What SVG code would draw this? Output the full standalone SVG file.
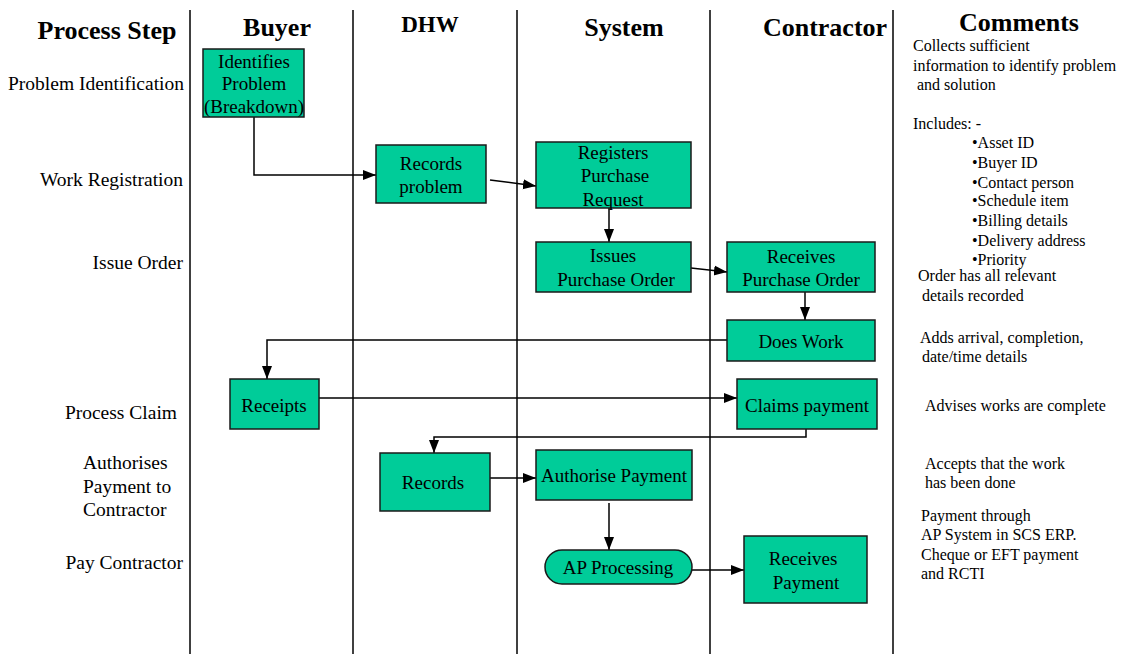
<svg xmlns="http://www.w3.org/2000/svg" width="1124" height="654" viewBox="0 0 1124 654">
<style>
text{font-family:"Liberation Serif","Times New Roman",serif;fill:#000}
.h{font-weight:bold;font-size:26px;text-anchor:middle}
.row{font-size:19.5px;text-anchor:end}
.rowl{font-size:19.5px}
.bt{font-size:19px;text-anchor:middle}
.c{font-size:16px}
.box{fill:#00CC99;stroke:#1a1a1a;stroke-width:1.5}
.lane{stroke:#000;stroke-width:1.5}
.con{fill:none;stroke:#000;stroke-width:1.5}
</style>
<defs>
<marker id="ar" markerUnits="userSpaceOnUse" markerWidth="14" markerHeight="14" viewBox="0 0 14 14" refX="13" refY="7" orient="auto">
<path d="M0,2 L13,7 L0,12 Z" fill="#000"/>
</marker>
</defs>
<rect width="1124" height="654" fill="#fff"/>
<g id="lanes">
<line class="lane" x1="190" y1="10" x2="190" y2="654"/>
<line class="lane" x1="353" y1="10" x2="353" y2="654"/>
<line class="lane" x1="517" y1="10" x2="517" y2="654"/>
<line class="lane" x1="710" y1="10" x2="710" y2="654"/>
<line class="lane" x1="893" y1="10" x2="893" y2="654"/>
</g>
<g id="headers">
<text class="h" x="107" y="39">Process Step</text>
<text class="h" x="277" y="36">Buyer</text>
<text class="h" x="430" y="32" style="font-size:23px">DHW</text>
<text class="h" x="624" y="36">System</text>
<text class="h" x="825" y="36">Contractor</text>
<text class="h" x="1019" y="31">Comments</text>
</g>
<g id="rows">
<text class="row" x="184" y="90">Problem Identification</text>
<text class="row" x="183" y="186">Work Registration</text>
<text class="row" x="183" y="269">Issue Order</text>
<text class="row" x="177" y="419">Process Claim</text>
<text class="rowl" x="83" y="469">Authorises</text>
<text class="rowl" x="83" y="493">Payment to</text>
<text class="rowl" x="83" y="516">Contractor</text>
<text class="row" x="183" y="569">Pay Contractor</text>
</g>
<g id="connectors">
<path class="con" d="M254,117 V175 H376" marker-end="url(#ar)"/>
<path class="con" d="M490,180 L536,186" marker-end="url(#ar)"/>
<path class="con" d="M609,208 V242" marker-end="url(#ar)"/>
<path class="con" d="M691,268 L727,272" marker-end="url(#ar)"/>
<path class="con" d="M805,292 V320" marker-end="url(#ar)"/>
<path class="con" d="M727,340 H267 V379" marker-end="url(#ar)"/>
<path class="con" d="M319,398 H737" marker-end="url(#ar)"/>
<path class="con" d="M806,429 V437 H434 V453" marker-end="url(#ar)"/>
<path class="con" d="M490,478 H536" marker-end="url(#ar)"/>
<path class="con" d="M609,503 V550" marker-end="url(#ar)"/>
<path class="con" d="M692,570 H744" marker-end="url(#ar)"/>
</g>
<g id="n1"><rect class="box" x="203" y="49" width="101" height="68"/>
<text class="bt" x="254" y="68">Identifies</text><text class="bt" x="254" y="90">Problem</text><text class="bt" x="254" y="113">(Breakdown)</text></g>
<g id="n2"><rect class="box" x="376" y="145" width="110" height="58"/>
<text class="bt" x="431" y="170">Records</text><text class="bt" x="431" y="193">problem</text></g>
<g id="n3"><rect class="box" x="536" y="142" width="155" height="66"/>
<text class="bt" x="613" y="159">Registers</text><text class="bt" x="615" y="182">Purchase</text><text class="bt" x="613" y="206">Request</text></g>
<g id="n4"><rect class="box" x="536" y="242" width="155" height="50"/>
<text class="bt" x="613" y="262">Issues</text><text class="bt" x="616" y="286">Purchase Order</text></g>
<g id="n5"><rect class="box" x="727" y="242" width="148" height="50"/>
<text class="bt" x="801" y="263">Receives</text><text class="bt" x="801" y="286">Purchase Order</text></g>
<g id="n6"><rect class="box" x="727" y="320" width="148" height="41"/>
<text class="bt" x="801" y="348">Does Work</text></g>
<g id="n7"><rect class="box" x="230" y="379" width="89" height="50"/>
<text class="bt" x="274" y="412">Receipts</text></g>
<g id="n8"><rect class="box" x="737" y="379" width="140" height="50"/>
<text class="bt" x="807" y="412">Claims payment</text></g>
<g id="n9"><rect class="box" x="380" y="453" width="110" height="58"/>
<text class="bt" x="433" y="489">Records</text></g>
<g id="n10"><rect class="box" x="536" y="450" width="156" height="50"/>
<text class="bt" x="614" y="482">Authorise Payment</text></g>
<g id="n11"><rect class="box" x="545" y="550" width="147" height="34" rx="17" ry="17"/>
<text class="bt" x="618" y="574">AP Processing</text></g>
<g id="n12"><rect class="box" x="744" y="536" width="123" height="67"/>
<text class="bt" x="803" y="565">Receives</text><text class="bt" x="806" y="589">Payment</text></g>
<g id="comments">
<text class="c" x="913" y="51">Collects sufficient</text>
<text class="c" x="913" y="71">information to identify problem</text>
<text class="c" x="917" y="90">and solution</text>
<text class="c" x="913" y="129">Includes: -</text>
<text class="c" x="972" y="148">•Asset ID</text>
<text class="c" x="972" y="168">•Buyer ID</text>
<text class="c" x="972" y="188">•Contact person</text>
<text class="c" x="972" y="206">•Schedule item</text>
<text class="c" x="972" y="226">•Billing details</text>
<text class="c" x="972" y="246">•Delivery address</text>
<text class="c" x="972" y="265">•Priority</text>
<text class="c" x="918" y="281">Order has all relevant</text>
<text class="c" x="922" y="301">details recorded</text>
<text class="c" x="920" y="343">Adds arrival, completion,</text>
<text class="c" x="922" y="362">date/time details</text>
<text class="c" x="925" y="411">Advises works are complete</text>
<text class="c" x="925" y="469">Accepts that the work</text>
<text class="c" x="925" y="488">has been done</text>
<text class="c" x="921" y="521">Payment through</text>
<text class="c" x="921" y="540">AP System in SCS ERP.</text>
<text class="c" x="921" y="560">Cheque or EFT payment</text>
<text class="c" x="921" y="579">and RCTI</text>
</g>
</svg>
